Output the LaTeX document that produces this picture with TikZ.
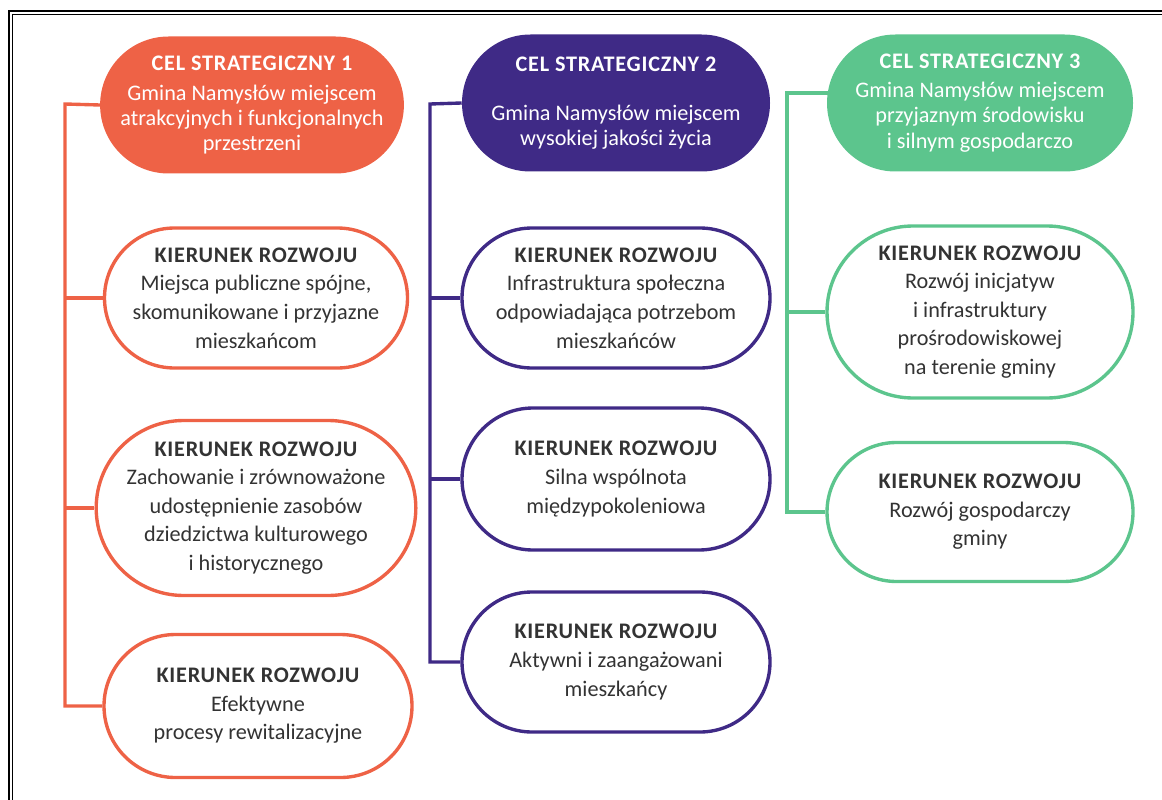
\documentclass[tikz,border=0pt]{standalone}
\usepackage{fontspec}
\setmainfont{Carlito}
\usetikzlibrary{shapes.misc,backgrounds}
\definecolor{celA}{HTML}{EE6246}
\definecolor{celB}{HTML}{3F2A86}
\definecolor{celC}{HTML}{5CC58D}
\definecolor{tekst}{HTML}{333333}
\newcommand{\tyt}[1]{{\bfseries\addfontfeatures{LetterSpace=3.5}#1}}
\begin{document}
\begin{tikzpicture}[x=0.025cm,y=-0.025cm,
  cel/.style={rounded rectangle,inner sep=0pt,minimum height=137*0.025cm,
    text=white,align=center,font=\fontsize{15.8}{17.8}\selectfont},
  kier/.style={rounded rectangle,draw=#1,line width=2.4pt,fill=white,inner sep=0pt,
    text=tekst,align=center,font=\fontsize{15.8}{20.3}\selectfont},
  polacz/.style={draw=#1,line width=2.4pt}]
\useasboundingbox (0,0) rectangle (1162,800);
\draw[line width=1.7pt] (9.2,800) -- (9.2,11.2) -- (1162,11.2);
\draw[line width=0.75pt] (12.2,800) -- (12.2,14.7) -- (1162,14.7);

\node[cel,fill=celA,minimum width=290*0.025cm] (h1) at (252,105) {\tyt{CEL STRATEGICZNY 1}\\[3pt]Gmina Namysłów miejscem\\atrakcyjnych i funkcjonalnych\\przestrzeni};
\node[kier=celA,minimum width=303*0.025cm,minimum height=140*0.025cm] (k11) at (256,298) {\tyt{KIERUNEK ROZWOJU}\\Miejsca publiczne spójne,\\skomunikowane i przyjazne\\mieszkańcom};
\node[kier=celA,minimum width=303*0.025cm,minimum height=175*0.025cm] (k12) at (256,508) {\tyt{KIERUNEK ROZWOJU}\\Zachowanie i zrównoważone\\udostępnienie zasobów\\dziedzictwa kulturowego\\i historycznego};
\node[kier=celA,minimum width=308*0.025cm,minimum height=143*0.025cm] (k13) at (258,706) {\tyt{KIERUNEK ROZWOJU}\\Efektywne\\procesy rewitalizacyjne};

\node[cel,fill=celB,minimum width=308*0.025cm] (h2) at (616,103) {\tyt{CEL STRATEGICZNY 2}\\[17pt]Gmina Namysłów miejscem\\wysokiej jakości życia};
\node[kier=celB,minimum width=308*0.025cm,minimum height=140*0.025cm] (k21) at (616,298) {\tyt{KIERUNEK ROZWOJU}\\Infrastruktura społeczna\\odpowiadająca potrzebom\\mieszkańców};
\node[kier=celB,minimum width=308*0.025cm,minimum height=142*0.025cm] (k22) at (616,479) {\tyt{KIERUNEK ROZWOJU}\\Silna wspólnota\\międzypokoleniowa};
\node[kier=celB,minimum width=308*0.025cm,minimum height=140*0.025cm] (k23) at (616,662) {\tyt{KIERUNEK ROZWOJU}\\Aktywni i zaangażowani\\mieszkańcy};

\node[cel,fill=celC,minimum width=306*0.025cm] (h3) at (980,103) {\tyt{CEL STRATEGICZNY 3}\\[3pt]Gmina Namysłów miejscem\\przyjaznym środowisku\\i silnym gospodarczo};
\node[kier=celC,minimum width=306*0.025cm,minimum height=172*0.025cm] (k31) at (980,312) {\tyt{KIERUNEK ROZWOJU}\\Rozwój inicjatyw\\i infrastruktury\\prośrodowiskowej\\na terenie gminy};
\node[kier=celC,minimum width=306*0.025cm,minimum height=139*0.025cm] (k32) at (980,512) {\tyt{KIERUNEK ROZWOJU}\\Rozwój gospodarczy\\gminy};

\coordinate (oa) at (65,104);
\coordinate (ob) at (430,104);
\coordinate (oc) at (787,93);
\begin{scope}[on background layer]
\draw[polacz=celA] (h1.west) -- (oa) |- (k13.west);
\draw[polacz=celA] (oa |- k11.west) -- (k11.west);
\draw[polacz=celA] (oa |- k12.west) -- (k12.west);
\draw[polacz=celB] (h2.west) -- (ob) |- (k23.west);
\draw[polacz=celB] (ob |- k21.west) -- (k21.west);
\draw[polacz=celB] (ob |- k22.west) -- (k22.west);
\draw[polacz=celC] (oc -| h3.center) -- (oc) |- (k32.west);
\draw[polacz=celC] (oc |- k31.west) -- (k31.west);
\end{scope}
\end{tikzpicture}
\end{document}
